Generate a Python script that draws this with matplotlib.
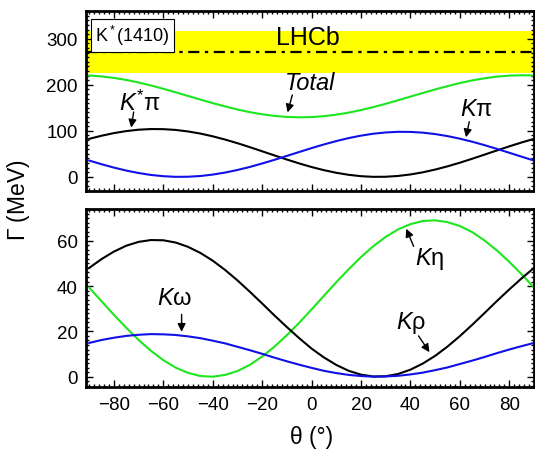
import matplotlib as mpl
mpl.use('Agg')
import matplotlib.pyplot as plt
from matplotlib.ticker import MultipleLocator

# mixing angle theta (deg), values every 5 deg
theta = [-90, -85, -80, -75, -70, -65, -60, -55, -50, -45, -40, -35, -30, -25,
         -20, -15, -10, -5, 0, 5, 10, 15, 20, 25, 30, 35, 40, 45, 50, 55, 60,
         65, 70, 75, 80, 85, 90]

# top panel (MeV)
g_kstpi = [82.6, 89.4, 95.1, 99.5, 102.5, 103.9, 103.7, 102.0, 98.7, 94.1, 88.1,
           81.1, 73.2, 64.6, 55.6, 46.6, 37.7, 29.2, 21.4, 14.6, 8.9, 4.5, 1.5,
           0.1, 0.3, 2.0, 5.3, 9.9, 15.9, 22.9, 30.8, 39.4, 48.4, 57.4, 66.3,
           74.8, 82.6]
g_kpi = [35.5, 27.5, 20.2, 13.7, 8.4, 4.2, 1.5, 0.1, 0.3, 1.9, 5.0, 9.4, 15.0,
         21.6, 29.1, 37.1, 45.6, 54.1, 62.5, 70.5, 77.8, 84.3, 89.6, 93.8, 96.5,
         97.9, 97.7, 96.1, 93.0, 88.6, 83.0, 76.4, 68.9, 60.9, 52.4, 43.9, 35.5]
g_total = [220.3, 218.3, 215.0, 210.6, 205.1, 198.6, 191.4, 183.7, 175.8, 167.9,
           160.2, 153.1, 146.4, 140.6, 136.0, 132.4, 130.3, 129.4, 129.9, 131.9,
           135.2, 139.6, 145.1, 151.6, 158.8, 166.5, 174.4, 182.3, 190.0, 197.1,
           203.8, 209.6, 214.2, 217.8, 219.9, 220.8, 220.3]

# bottom panel (MeV)
g_krho = [48.0, 51.9, 55.2, 57.8, 59.5, 60.3, 60.2, 59.2, 57.3, 54.6, 51.2, 47.1,
          42.5, 37.5, 32.3, 27.0, 21.9, 17.0, 12.4, 8.5, 5.2, 2.6, 0.9, 0.1, 0.2,
          1.2, 3.1, 5.8, 9.2, 13.3, 17.9, 22.9, 28.1, 33.4, 38.5, 43.4, 48.0]
g_komega = [14.9, 16.2, 17.2, 18.0, 18.5, 18.8, 18.7, 18.4, 17.8, 17.0, 15.9,
            14.7, 13.2, 11.7, 10.1, 8.4, 6.8, 5.3, 3.9, 2.6, 1.6, 0.8, 0.3, 0.0,
            0.1, 0.4, 1.0, 1.8, 2.9, 4.1, 5.6, 7.1, 8.7, 10.4, 12.0, 13.5, 14.9]
g_keta = [39.3, 33.3, 27.3, 21.6, 16.2, 11.4, 7.3, 4.0, 1.7, 0.3, 0.0, 0.8, 2.5,
          5.2, 8.9, 13.3, 18.3, 23.8, 29.7, 35.7, 41.7, 47.4, 52.8, 57.6, 61.7,
          65.0, 67.3, 68.7, 69.0, 68.2, 66.5, 63.8, 60.1, 55.7, 50.7, 45.2, 39.3]

# LHCb measurement: central value and band
lhcb_val = 272
lhcb_lo, lhcb_hi = 225, 317

mpl.rcParams['font.family'] = ['Liberation Sans', 'DejaVu Sans']
mpl.rcParams['mathtext.fontset'] = 'custom'
mpl.rcParams['mathtext.rm'] = 'Liberation Sans'
mpl.rcParams['mathtext.it'] = 'Liberation Sans:italic'
mpl.rcParams['font.size'] = 13.5

green = '#1ee61e'
blue = '#1010e8'
lw = 1.5
lab = 17

fig = plt.figure(figsize=(5.35, 4.52), dpi=100)
ax1 = fig.add_axes([0.1607, 0.5759, 0.8374, 0.3982])
ax2 = fig.add_axes([0.1607, 0.1423, 0.8374, 0.3931])

# ---- top panel
ax1.axhspan(lhcb_lo, lhcb_hi, color='#ffff00', lw=0, zorder=0)
ax1.axhline(lhcb_val, color='k', lw=1.6, linestyle=(0, (5, 2.5, 1.5, 2.5)))
ax1.plot(theta, g_total, color=green, lw=lw)
ax1.plot(theta, g_kstpi, color='k', lw=lw)
ax1.plot(theta, g_kpi, color=blue, lw=lw)
ax1.set_xlim(-91.3, 90)
ax1.set_ylim(-30, 361)
ax1.set_yticks([0, 100, 200, 300])
ax1.yaxis.set_minor_locator(MultipleLocator(10))
ax1.tick_params(labelbottom=False)

ax1.text(-72.5, 308, r'K$^*$(1410)', fontsize=13, ha='center', va='center',
         bbox=dict(boxstyle='square,pad=0.25', fc='white', ec='k', lw=0.8))
ax1.text(-1.5, 303, 'LHCb', fontsize=18, ha='center', va='center')

arr = dict(arrowstyle='-|>', color='k', lw=1.0, mutation_scale=12,
           shrinkA=0, shrinkB=0)
ax1.text(-69.5, 162, r'$\mathit{K}^{*}\mathrm{\pi}$', fontsize=lab,
         ha='center', va='center')
ax1.annotate('', xy=(-73, 107), xytext=(-72, 141), arrowprops=arr)
ax1.text(-0.8, 206, 'Total', fontsize=17, style='italic', ha='center', va='center')
ax1.annotate('', xy=(-9.7, 140), xytext=(-7.8, 178), arrowprops=arr)
ax1.text(66.7, 147, r'$\mathit{K}\mathrm{\pi}$', fontsize=lab, ha='center', va='center')
ax1.annotate('', xy=(62.5, 86), xytext=(63.8, 120), arrowprops=arr)

# ---- bottom panel
ax2.plot(theta, g_keta, color=green, lw=lw)
ax2.plot(theta, g_krho, color='k', lw=lw)
ax2.plot(theta, g_komega, color=blue, lw=lw)
ax2.set_xlim(-91.3, 90)
ax2.set_ylim(-4.4, 74)
ax2.set_yticks([0, 20, 40, 60])
ax2.yaxis.set_minor_locator(MultipleLocator(2))

ax2.text(-55.4, 34.7, r'$\mathit{K}\mathrm{\omega}$', fontsize=lab, ha='center', va='center')
ax2.annotate('', xy=(-52.6, 19.8), xytext=(-52.6, 27.5), arrowprops=arr)
ax2.text(47.7, 52.5, r'$\mathit{K}\mathrm{\eta}$', fontsize=lab, ha='center', va='center')
ax2.annotate('', xy=(38.3, 65.3), xytext=(41.3, 57.5), arrowprops=arr)
ax2.text(40.4, 24, r'$\mathit{K}\mathrm{\rho}$', fontsize=lab, ha='center', va='center')
ax2.annotate('', xy=(47.7, 10.8), xytext=(43.3, 18.0), arrowprops=arr)

for ax in (ax1, ax2):
    ax.set_xticks([-80, -60, -40, -20, 0, 20, 40, 60, 80])
    ax.xaxis.set_minor_locator(MultipleLocator(2))
    ax.tick_params(which='both', direction='in', top=True, right=True, width=1.0)
    ax.tick_params(which='major', length=5, pad=6)
    ax.tick_params(which='minor', length=2.5)
    ax.tick_params(axis='x', which='major', pad=7)
    for s in ax.spines.values():
        s.set_linewidth(2.0)

fig.text(0.034, 0.557, r'$\Gamma$ (MeV)', rotation=90, ha='center', va='center',
         fontsize=16.5)
fig.text(0.582, 0.033, 'θ (°)', ha='center', va='center', fontsize=16.5)

plt.savefig('out.png', dpi=100)
